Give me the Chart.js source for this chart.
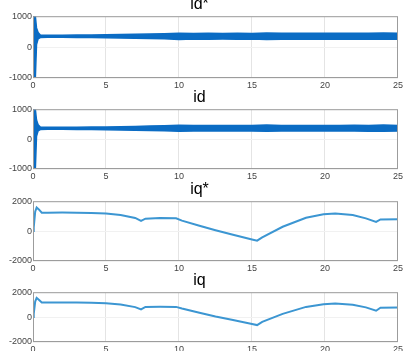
<!DOCTYPE html>
<html>
<head>
<meta charset="utf-8">
<script src="https://cdn.jsdelivr.net/npm/chart.js@4.4.1/dist/chart.umd.min.js"></script>
<style>
  body { margin: 0; background: #fff; width: 405px; height: 351px; overflow: hidden; position: relative; }
  canvas { position: absolute; left: 0; }
</style>
</head>
<body>
<canvas id="c1" width="405" height="97" style="top:-5px"></canvas>
<canvas id="c2" width="405" height="95" style="top:88px"></canvas>
<canvas id="c3" width="405" height="95" style="top:180px"></canvas>
<canvas id="c4" width="405" height="85" style="top:271px"></canvas>
<script>
// time axis (s)
const xTicks = [0, 5, 10, 15, 20, 25];

// id* / id: envelope of the noisy band
const idT = [0, 0.08, 0.16, 0.24, 0.35, 0.5, 1, 2, 3, 4, 5, 6, 7, 8, 9, 10, 11, 12, 13, 14, 15, 16, 17, 18, 19, 20, 21, 22, 23, 24, 25];
const idStarUpper = [1000, 1000, 1000, 620, 470, 395, 385, 385, 388, 392, 398, 405, 415, 425, 435, 450, 442, 446, 442, 446, 442, 460, 446, 446, 446, 446, 446, 450, 446, 458, 446];
const idStarLower = [-1000, -1000, -1000, 80, 270, 310, 320, 318, 314, 310, 305, 298, 290, 280, 270, 250, 262, 258, 262, 258, 262, 250, 258, 258, 258, 258, 258, 258, 254, 252, 258];
const idUpper = [1000, 1000, 1000, 640, 480, 405, 395, 395, 398, 402, 408, 415, 425, 435, 445, 460, 452, 456, 452, 456, 452, 470, 456, 456, 456, 456, 456, 460, 456, 468, 456];
const idLower = [-1000, -1000, -1000, 90, 280, 320, 330, 328, 324, 320, 315, 308, 300, 290, 280, 260, 272, 268, 272, 268, 272, 260, 268, 268, 268, 268, 268, 268, 264, 262, 268];

// iq* / iq
const iqT = [0, 0.05, 0.15, 0.25, 0.4, 0.6, 1, 2, 3, 4, 5, 6, 7, 7.4, 7.7, 8.7, 9.8, 10.2, 11.4, 12.5, 13.7, 15, 15.35, 15.7, 17.1, 18.7, 19.9, 20.7, 21.9, 22.8, 23.5, 23.8, 25];
const iqStar = [0, 250, 1300, 1580, 1450, 1230, 1230, 1240, 1230, 1210, 1180, 1080, 880, 690, 830, 880, 860, 700, 360, 60, -240, -560, -640, -420, 290, 890, 1130, 1180, 1070, 850, 620, 780, 800];
const iq = [0, 250, 1250, 1550, 1400, 1175, 1175, 1180, 1170, 1150, 1120, 1010, 800, 620, 820, 830, 820, 690, 350, 50, -240, -560, -640, -380, 260, 820, 1040, 1095, 1000, 780, 510, 750, 775];

const BAND = '#0b6cc4';
const LINE = '#3c96d2';
const FONT = 'Liberation Sans, Arial, sans-serif';

const xy = (t, v) => t.map((x, i) => ({ x: x, y: v[i] }));

// draw the full box like MATLAB axes
const boxPlugin = {
  id: 'box',
  afterDraw(chart) {
    const a = chart.chartArea;
    const ctx = chart.ctx;
    ctx.save();
    ctx.strokeStyle = '#9c9c9c';
    ctx.lineWidth = 1;
    ctx.strokeRect(a.left + 0.5, a.top + 0.5, a.right - a.left - 1, a.bottom - a.top - 1);
    ctx.restore();
  }
};

function makeChart(id, title, datasets, yMax) {
  return new Chart(document.getElementById(id), {
    type: 'line',
    data: { datasets: datasets },
    options: {
      responsive: false,
      animation: false,
      layout: { padding: { left: 0, right: 6, top: 0, bottom: 0 } },
      elements: { point: { radius: 0 }, line: { tension: 0 } },
      plugins: {
        legend: { display: false },
        tooltip: { enabled: false },
        title: {
          display: true,
          text: title,
          color: '#000',
          font: { family: FONT, size: 16, weight: 'normal' },
          padding: { top: 0, bottom: 2 }
        }
      },
      scales: {
        x: {
          type: 'linear',
          min: 0, max: 25,
          afterBuildTicks: s => { s.ticks = xTicks.map(v => ({ value: v })); },
          afterFit: s => { s.height = 14; },
          grid: { color: '#e4e4e4', drawTicks: false },
          border: { display: false },
          ticks: { padding: 2, color: '#444', font: { family: FONT, size: 9 }, maxRotation: 0, callback: v => String(v) }
        },
        y: {
          min: -yMax, max: yMax,
          afterBuildTicks: s => { s.ticks = [-yMax, 0, yMax].map(v => ({ value: v })); },
          afterFit: s => { s.width = 33; },
          grid: { color: '#f1f1f1', drawTicks: false },
          border: { display: false },
          ticks: { padding: 1, color: '#444', font: { family: FONT, size: 9 }, callback: v => String(v) }
        }
      }
    },
    plugins: [boxPlugin]
  });
}

function bandSets(lower, upper) {
  return [
    { data: xy(idT, lower), borderColor: BAND, borderWidth: 1.5, fill: false },
    { data: xy(idT, upper), borderColor: BAND, borderWidth: 1.5, backgroundColor: BAND, fill: '-1' }
  ];
}

makeChart('c1', 'id*', bandSets(idStarLower, idStarUpper), 1000);
makeChart('c2', 'id', bandSets(idLower, idUpper), 1000);
makeChart('c3', 'iq*', [{ data: xy(iqT, iqStar), borderColor: LINE, borderWidth: 2, fill: false }], 2000);
makeChart('c4', 'iq', [{ data: xy(iqT, iq), borderColor: LINE, borderWidth: 2, fill: false }], 2000);
</script>
</body>
</html>
